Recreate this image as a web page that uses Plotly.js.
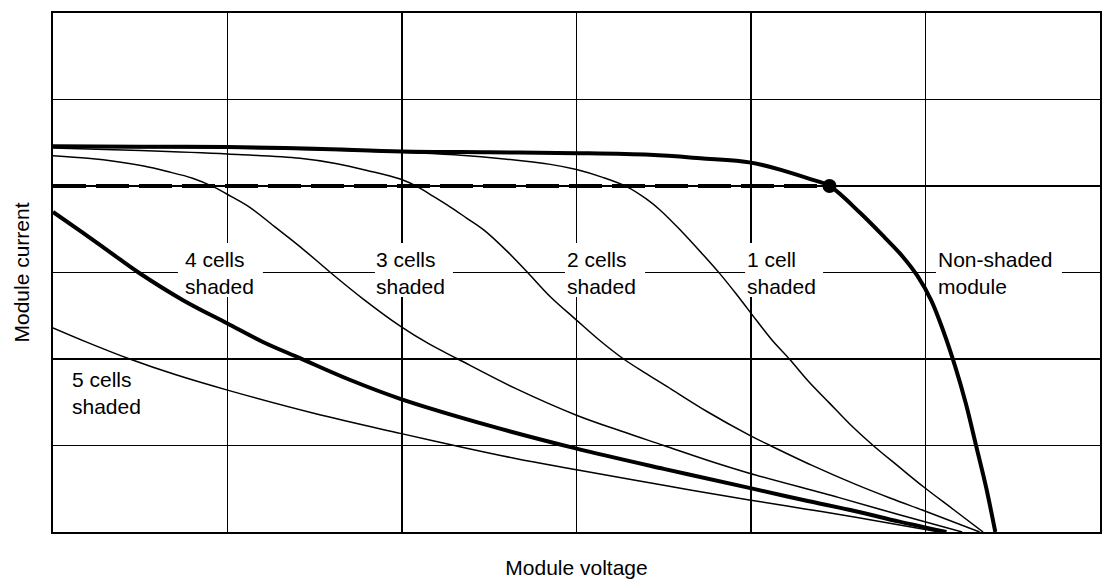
<!DOCTYPE html>
<html>
<head>
<meta charset="utf-8">
<script src="https://cdn.plot.ly/plotly-3.0.1.min.js"></script>
<style>
  html, body { margin: 0; padding: 0; background: #ffffff; }
  #chart { width: 1117px; height: 580px; }
</style>
</head>
<body>
<div id="chart"></div>
<script>
// ---- Data (relative units: voltage 0..6, current 0..6 grid cells) ----
const nonShadedV = [0, 0.5, 1.0, 1.5, 2.0, 2.5, 3.0, 3.42, 3.71, 4.0, 4.2, 4.34, 4.45, 4.625, 4.768, 4.871, 4.954, 5.032, 5.10, 5.169, 5.232, 5.289, 5.347, 5.40];
const nonShadedI = [4.46, 4.455, 4.45, 4.43, 4.40, 4.39, 4.38, 4.36, 4.32, 4.27, 4.17, 4.08, 4.0, 3.69, 3.40, 3.18, 2.96, 2.68, 2.335, 1.92, 1.48, 1.006, 0.52, 0];

const cell1V = [0, 1.0, 1.5, 2.0, 2.3, 2.6, 2.85, 3.0, 3.15, 3.29, 3.40, 3.48, 3.60, 3.71, 3.82, 3.92, 4.03, 4.12, 4.22, 4.33, 4.45, 4.57, 4.70, 4.85, 4.99, 5.16, 5.33];
const cell1I = [4.45, 4.44, 4.42, 4.39, 4.36, 4.31, 4.25, 4.19, 4.10, 3.99, 3.85, 3.72, 3.48, 3.24, 2.99, 2.74, 2.45, 2.22, 2.0, 1.74, 1.49, 1.24, 1.0, 0.75, 0.52, 0.26, 0];

const cell2V = [0, 0.5, 1.0, 1.415, 1.62, 1.80, 1.99, 2.09, 2.18, 2.275, 2.37, 2.47, 2.60, 2.72, 2.85, 3.0, 3.13, 3.27, 3.40, 3.52, 3.75, 3.99, 4.11, 4.35, 4.6, 4.8, 5.0, 5.31];
const cell2I = [4.44, 4.41, 4.37, 4.32, 4.26, 4.18, 4.08, 3.99, 3.88, 3.76, 3.63, 3.49, 3.25, 3.0, 2.72, 2.45, 2.22, 2.0, 1.83, 1.68, 1.39, 1.12, 1.0, 0.77, 0.55, 0.39, 0.24, 0];

const cell3V = [0, 0.2, 0.37, 0.52, 0.65, 0.80, 0.92, 1.02, 1.13, 1.27, 1.415, 1.59, 1.78, 1.99, 2.15, 2.32, 2.65, 3.0, 3.25, 3.50, 3.75, 3.99, 4.5, 4.85, 5.21];
const cell3I = [4.35, 4.32, 4.28, 4.23, 4.17, 4.09, 3.99, 3.88, 3.75, 3.53, 3.30, 3.0, 2.69, 2.38, 2.18, 2.0, 1.66, 1.35, 1.17, 1.0, 0.83, 0.68, 0.40, 0.20, 0];

const cell4V = [0, 0.17, 0.33, 0.49, 0.745, 1.0, 1.2, 1.415, 1.7, 1.99, 2.5, 2.99, 3.5, 3.99, 4.3, 4.6, 4.85, 5.12];
const cell4I = [3.70, 3.46, 3.23, 3.0, 2.68, 2.41, 2.2, 2.01, 1.76, 1.54, 1.23, 0.97, 0.73, 0.51, 0.37, 0.24, 0.12, 0];

const cell5V = [0, 0.2, 0.44, 0.7, 1.0, 1.5, 1.99, 2.3, 2.65, 3.0, 3.5, 3.99, 4.3, 4.6, 5.08];
const cell5I = [2.36, 2.19, 2.0, 1.82, 1.64, 1.37, 1.14, 1.0, 0.85, 0.72, 0.54, 0.37, 0.27, 0.17, 0];

const mppV = [0, 4.45];
const mppI = [4.0, 4.0];

const labelTexts = ["4 cells<br>shaded", "3 cells<br>shaded", "2 cells<br>shaded", "1 cell<br>shaded", "Non-shaded<br>module", "5 cells<br>shaded"];
const labelV = [0.756, 1.851, 2.944, 3.975, 5.072, 0.107];
const labelI = [3.0, 3.0, 3.0, 3.0, 3.0, 1.61];

const FONT = "Liberation Sans, Arial, Helvetica, sans-serif";

function curve(x, y, w) {
  return { x: x, y: y, type: "scatter", mode: "lines",
    line: { color: "#000", width: w, shape: "spline", smoothing: 1 },
    hoverinfo: "skip", showlegend: false };
}

const traces = [
  curve(cell5V, cell5I, 1.5),
  curve(cell4V, cell4I, 4),
  curve(cell3V, cell3I, 1.5),
  curve(cell2V, cell2I, 1.5),
  curve(cell1V, cell1I, 1.5),
  { x: mppV, y: mppI, type: "scatter", mode: "lines",
    line: { color: "#000", width: 4, dash: "33px,10px" }, hoverinfo: "skip", showlegend: false },
  curve(nonShadedV, nonShadedI, 4),
  { x: [mppV[1]], y: [mppI[1]], type: "scatter", mode: "markers",
    marker: { color: "#000", size: 14 }, hoverinfo: "skip", showlegend: false }
];

const annotations = labelTexts.map((t, i) => ({
  x: labelV[i], y: labelI[i], xref: "x", yref: "y",
  text: t, showarrow: false, xanchor: "left", yanchor: "middle", align: "left",
  borderpad: 0, borderwidth: 0,
  font: { family: FONT, size: 21, color: "#000" }
}));

// white masks that break the grid lines behind the curve labels (drawn between grid and traces)
const maskLeftPad = [0.04, 0.006, 0.01, 0.009, 0.012];
const maskWidth = [0.487, 0.447, 0.459, 0.447, 0.722];
const shapes = maskWidth.map((w, i) => ({
  type: "rect", layer: "between", xref: "x", yref: "y",
  x0: labelV[i] - maskLeftPad[i], x1: labelV[i] - maskLeftPad[i] + w,
  y0: labelI[i] - 0.283, y1: labelI[i] + 0.341,
  fillcolor: "#ffffff", line: { width: 0 }
}));

const axisCommon = {
  range: [0, 6], dtick: 1, tick0: 0, showgrid: true, gridcolor: "#000", gridwidth: 1.4,
  zeroline: false, showline: true, linecolor: "#000", linewidth: 2, mirror: true,
  showticklabels: false, ticks: "", fixedrange: true
};

const layout = {
  width: 1117, height: 580,
  margin: { l: 53, r: 17, t: 13, b: 48 },
  paper_bgcolor: "#fff", plot_bgcolor: "#fff",
  font: { family: FONT, size: 21, color: "#000" },
  xaxis: Object.assign({}, axisCommon, {
    title: { text: "Module voltage", font: { family: FONT, size: 21, color: "#000" }, standoff: 27 }
  }),
  yaxis: Object.assign({}, axisCommon, {
    title: { text: "Module current", font: { family: FONT, size: 21, color: "#000" }, standoff: 16 }
  }),
  annotations: annotations,
  shapes: shapes,
  showlegend: false
};

Plotly.newPlot("chart", traces, layout, { displayModeBar: false, staticPlot: true });
</script>
</body>
</html>
